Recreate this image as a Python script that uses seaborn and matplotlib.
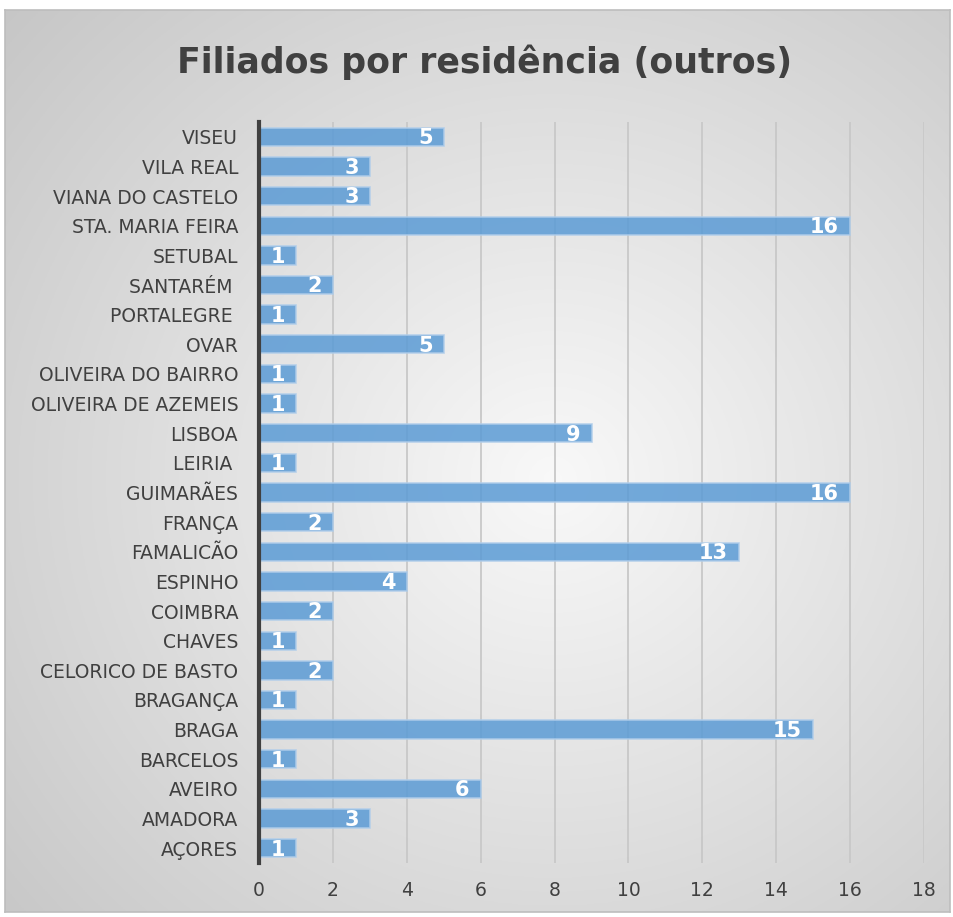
import numpy as np
import pandas as pd
import matplotlib
matplotlib.use('Agg')
import matplotlib.pyplot as plt
import seaborn as sns

# ---------------- data ----------------
cidades = ['VISEU', 'VILA REAL', 'VIANA DO CASTELO', 'STA. MARIA FEIRA', 'SETUBAL',
           'SANTARÉM ', 'PORTALEGRE ', 'OVAR', 'OLIVEIRA DO BAIRRO', 'OLIVEIRA DE AZEMEIS',
           'LISBOA', 'LEIRIA ', 'GUIMARÃES', 'FRANÇA', 'FAMALICÃO', 'ESPINHO', 'COIMBRA',
           'CHAVES', 'CELORICO DE BASTO', 'BRAGANÇA', 'BRAGA', 'BARCELOS', 'AVEIRO',
           'AMADORA', 'AÇORES']
filiados = [5, 3, 3, 16, 1, 2, 1, 5, 1, 1, 9, 1, 16, 2, 13, 4, 2, 1, 2, 1, 15, 1, 6, 3, 1]
x_ticks = [0, 2, 4, 6, 8, 10, 12, 14, 16, 18]

df = pd.DataFrame({'Cidade': cidades, 'Filiados': filiados})

# ---------------- style ----------------
sns.set_style('white')
plt.rcParams['font.family'] = ['DejaVu Sans']
txt = '#404040'

W, H = 954, 917
fig = plt.figure(figsize=(W / 100, H / 100), dpi=100)
fig.patch.set_facecolor('white')

# background panel with radial gradient
x0, y0, x1, y1 = 5, 10, 950, 912
bg = fig.add_axes([x0 / W, 1 - y1 / H, (x1 - x0) / W, (y1 - y0) / H])
gx, gy = np.meshgrid(np.linspace(0, 1, 400), np.linspace(0, 1, 400))
r = np.sqrt(((gx - 0.58) / 0.75) ** 2 + ((gy - 0.52) / 0.75) ** 2)
shade = np.clip(0.975 - 0.19 * r, 0.76, 0.975)
bg.imshow(np.dstack([shade] * 3), extent=[0, 1, 0, 1], aspect='auto', origin='upper')
bg.set_xticks([])
bg.set_yticks([])
for s in bg.spines.values():
    s.set_color('#bdbdbd')
    s.set_linewidth(1.2)

# ---------------- bars ----------------
ax = fig.add_axes([259 / W, 1 - 863 / H, (924 - 259) / W, (863 - 122) / H])
ax.patch.set_alpha(0)
sns.barplot(data=df, x='Filiados', y='Cidade', orient='h', color='#5B9BD5',
            saturation=1, width=0.62, edgecolor='#b0cdea', linewidth=1.2,
            alpha=0.85, ax=ax, zorder=3)

# white value labels inside the bar end
for p, v in zip(ax.patches, filiados):
    ax.annotate(str(v), (p.get_width(), p.get_y() + p.get_height() / 2),
                xytext=(-8, -1), textcoords='offset points', ha='right', va='center',
                color='white', fontsize=15, fontweight='bold', zorder=4)

ax.set_xlim(0, 18)
ax.set_xticks(x_ticks)
ax.set_ylim(len(cidades) - 0.5, -0.5)
ax.xaxis.grid(True, color='#c8c8c8', linewidth=1.3, zorder=0)
ax.set_axisbelow(True)
for s in ['top', 'right', 'bottom']:
    ax.spines[s].set_visible(False)
ax.spines['left'].set_color('#404040')
ax.spines['left'].set_linewidth(3)
ax.spines['left'].set_zorder(5)
ax.tick_params(axis='both', length=0, colors=txt, labelsize=13.5)
ax.tick_params(axis='x', pad=13)
ax.tick_params(axis='y', pad=15)
ax.set_xlabel('')
ax.set_ylabel('')

fig.text(485 / W, 1 - 62 / H, 'Filiados por residência (outros)', ha='center', va='center',
         fontsize=25, fontweight='bold', color=txt)

fig.savefig('out.png', dpi=100)
